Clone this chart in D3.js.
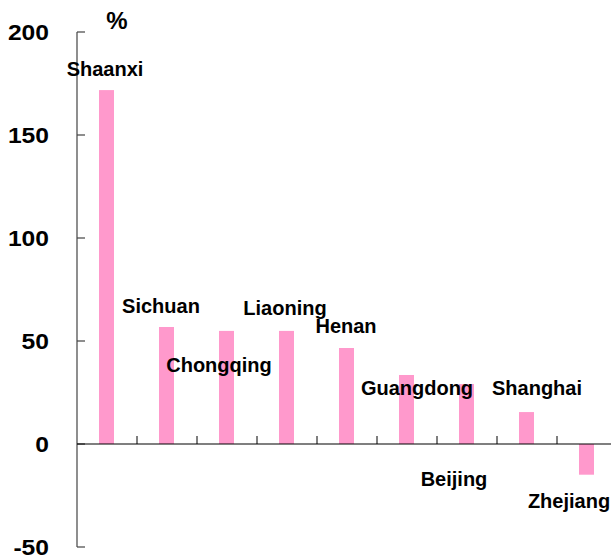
<!DOCTYPE html>
<html>
<head>
<meta charset="utf-8">
<script src="https://cdn.jsdelivr.net/npm/d3@7/dist/d3.min.js"></script>
<style>
  body { margin: 0; background: #fff; }
  svg { display: block; font-family: Arial, "Liberation Sans", sans-serif; font-weight: bold; }
</style>
</head>
<body>
<div id="chart"></div>
<script>
// data
var regions = ["Shaanxi", "Sichuan", "Chongqing", "Liaoning", "Henan", "Guangdong", "Beijing", "Shanghai", "Zhejiang"];
var growth = [171.8, 56.8, 54.9, 54.9, 46.6, 33.5, 29.1, 15.5, -14.9];
var yTicks = [-50, 0, 50, 100, 150, 200];

// label offsets from the bar end (layout only)
var labelDx = [-2, -6, -8, -2, -1, 10, -13, 10, -18];
var labelDy = [-14, -14, 41, -16, -15, 20, 102, -17, 64];

var width = 611, height = 555;

var svg = d3.select("#chart").append("svg")
    .attr("width", width)
    .attr("height", height);

var x = d3.scaleBand().domain(regions).range([77, 617]);
var y = d3.scaleLinear().domain([-50, 200]).range([547, 32]);

var barW = x.bandwidth() * 0.25;

// bars
svg.selectAll(".bar")
    .data(regions)
  .enter().append("rect")
    .attr("class", "bar")
    .attr("x", function(d) { return x(d) + (x.bandwidth() - barW) / 2 - 0.5; })
    .attr("y", function(d, i) { return y(Math.max(0, growth[i])); })
    .attr("width", barW)
    .attr("height", function(d, i) { return Math.abs(y(growth[i]) - y(0)); })
    .style("fill", "#ff99cc");

// y axis
var yAxis = svg.append("g");
yAxis.append("line")
    .attr("x1", 77).attr("x2", 77)
    .attr("y1", y(200)).attr("y2", y(-50))
    .style("stroke", "#444").style("stroke-width", 1.2);
yAxis.selectAll(".ytick")
    .data(yTicks)
  .enter().append("line")
    .attr("x1", 77).attr("x2", 85)
    .attr("y1", function(d) { return y(d); })
    .attr("y2", function(d) { return y(d); })
    .style("stroke", "#444").style("stroke-width", 1.2);
yAxis.selectAll(".ylab")
    .data(yTicks)
  .enter().append("text")
    .attr("transform", function(d) { return "translate(49," + y(d) + ") scale(1.12,1)"; })
    .attr("dy", "0.36em")
    .attr("text-anchor", "end")
    .style("font-size", "22px")
    .text(function(d) { return d; });

svg.append("text")
    .attr("x", 117).attr("y", 29)
    .attr("text-anchor", "middle")
    .style("font-size", "24px")
    .text("%");

// zero line + category ticks
svg.append("line")
    .attr("x1", 77).attr("x2", width)
    .attr("y1", y(0)).attr("y2", y(0))
    .style("stroke", "#000").style("stroke-width", 1.2);
svg.selectAll(".xtick")
    .data(regions.slice(1))
  .enter().append("line")
    .attr("x1", function(d) { return x(d); })
    .attr("x2", function(d) { return x(d); })
    .attr("y1", y(0) - 8).attr("y2", y(0))
    .style("stroke", "#000").style("stroke-width", 1);

// region labels
svg.selectAll(".lab")
    .data(regions)
  .enter().append("text")
    .attr("x", function(d, i) { return x(d) + x.bandwidth() / 2 + labelDx[i]; })
    .attr("y", function(d, i) { return y(Math.max(0, growth[i])) + labelDy[i]; })
    .attr("text-anchor", "middle")
    .style("font-size", "20px")
    .text(function(d) { return d; });
</script>
</body>
</html>
